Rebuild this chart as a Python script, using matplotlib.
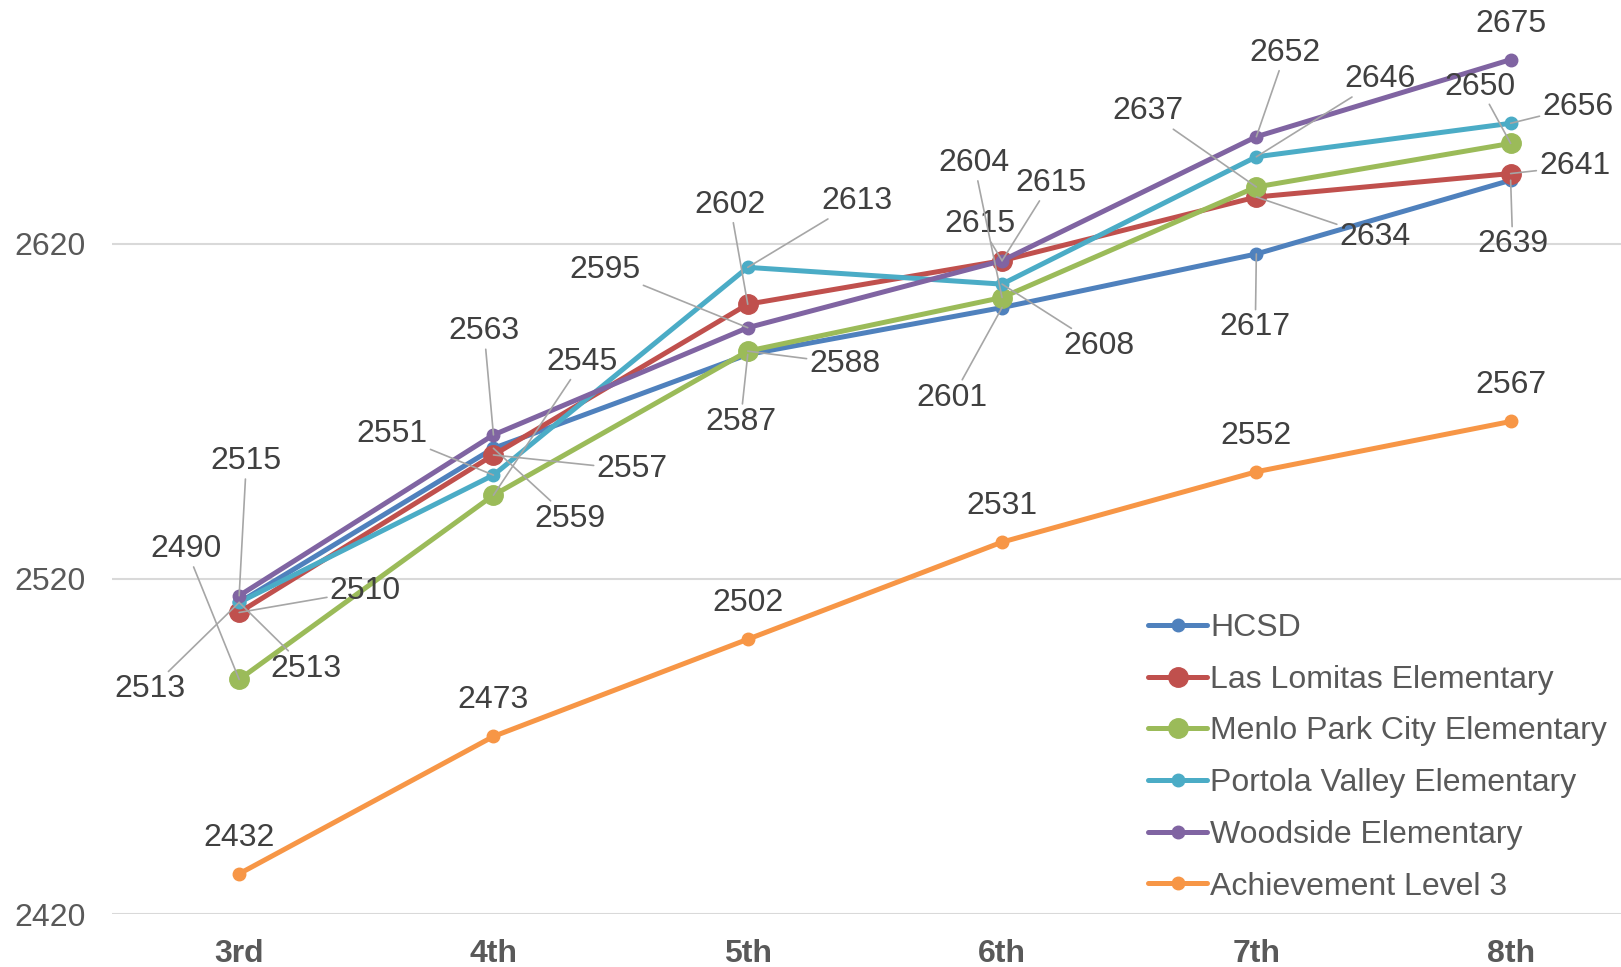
import matplotlib
matplotlib.use('Agg')
import matplotlib.pyplot as plt
import numpy as np

# Scale scores by grade
grades = ['3rd', '4th', '5th', '6th', '7th', '8th']
hcsd = [2513, 2559, 2587, 2601, 2617, 2639]
las_lomitas = [2510, 2557, 2602, 2615, 2634, 2641]
menlo_park = [2490, 2545, 2588, 2604, 2637, 2650]
portola_valley = [2513, 2551, 2613, 2608, 2646, 2656]
woodside = [2515, 2563, 2595, 2615, 2652, 2675]
level3 = [2432, 2473, 2502, 2531, 2552, 2567]
y_ticks = [2420, 2520, 2620]

series = [
    ('HCSD', hcsd, '#4F81BD', 9),
    ('Las Lomitas Elementary', las_lomitas, '#C0504D', 14),
    ('Menlo Park City Elementary', menlo_park, '#9BBB59', 14),
    ('Portola Valley Elementary', portola_valley, '#4BACC6', 9),
    ('Woodside Elementary', woodside, '#8064A2', 9),
    ('Achievement Level 3', level3, '#F79646', 9),
]

# label offsets from each point (pixels, y down) - layout only
label_offsets = {
    'HCSD': [(-86, 84), (74, 68), (-7, 65), (-48, 87), (-1, 71), (2, 62)],
    'Las Lomitas Elementary': [(122, -21), (134, 14), (-17, -96), (-21, -35), (115, 39), (62, -7)],
    'Menlo Park City Elementary': [(-51, -126), (86, -129), (94, 12), (-27, -130), (-105, -73), (-30, -55)],
    'Portola Valley Elementary': [(65, 64), (-98, -40), (106, -64), (94, 60), (120, -75), (65, -16)],
    'Woodside Elementary': [(7, -130), (-9, -100), (-138, -56), (47, -75), (28, -81), (0, -34)],
    'Achievement Level 3': [(0, -35)] * 6,
}

FS = 23
plt.rcParams['font.family'] = ['Liberation Sans', 'DejaVu Sans']

fig = plt.figure(figsize=(16.21, 9.67), dpi=100)
ax = fig.add_axes([112 / 1621, 53 / 967, 1 - 112 / 1621, 1 - 53 / 967])

x = np.arange(len(grades))
for k, (name, vals, color, ms) in enumerate(series):
    ax.plot(x, vals, color=color, lw=3.6, marker='o', ms=ms, label=name,
            zorder=2 + k, solid_capstyle='round')

px2pt = 1.034 * 0.72
for name, vals, color, ms in series:
    for i, v in enumerate(vals):
        dx, dy = label_offsets[name][i]
        props = None
        if np.hypot(dx, dy) > 38:
            props = dict(arrowstyle='-', color='#A6A6A6', lw=1.2, shrinkA=0, shrinkB=0)
        ax.annotate(str(v), (x[i], v), xytext=(dx * px2pt, -dy * px2pt),
                    textcoords='offset points', ha='center', va='center',
                    fontsize=FS, color='#404040', arrowprops=props, zorder=20)

ax.set_xlim(-0.5, 5.434)
ax.set_ylim(2420, 2692.8)
ax.set_yticks(y_ticks)
ax.set_xticks(x)
ax.set_xticklabels(grades, fontweight='bold')
ax.yaxis.grid(True, color='#D9D9D9', lw=1.5, zorder=0)
ax.set_axisbelow(True)
for s in ax.spines.values():
    s.set_visible(False)
ax.tick_params(axis='y', length=0, pad=19, labelsize=FS, labelcolor='#595959')
ax.tick_params(axis='x', length=0, pad=18, labelsize=FS, labelcolor='#595959')

leg = ax.legend(loc='upper left', bbox_to_anchor=(1148 / 1621, 1 - 613 / 967),
                bbox_transform=fig.transFigure, frameon=False, fontsize=FS,
                handlelength=1.85, handletextpad=0.1, borderpad=0, borderaxespad=0,
                labelspacing=0.68, labelcolor='#595959')

fig.savefig('out.png', dpi=100)
